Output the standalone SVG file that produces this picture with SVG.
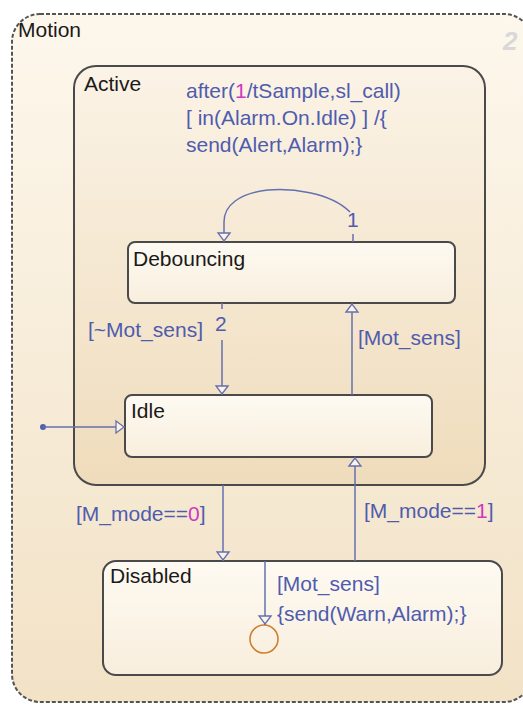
<svg xmlns="http://www.w3.org/2000/svg" width="523" height="704" viewBox="0 0 523 704">
<defs>
<linearGradient id="gOuter" x1="0" y1="0" x2="0" y2="1">
<stop offset="0" stop-color="#fdf7ec"/><stop offset="1" stop-color="#f2e2c6"/>
</linearGradient>
<linearGradient id="gActive" x1="0" y1="0" x2="0" y2="1">
<stop offset="0" stop-color="#fbf3e6"/><stop offset="1" stop-color="#efdcbc"/>
</linearGradient>
<linearGradient id="gState" x1="0" y1="0" x2="0" y2="1">
<stop offset="0" stop-color="#fefaf2"/><stop offset="1" stop-color="#f8eedd"/>
</linearGradient>
<marker id="arr" viewBox="0 0 10 16" refX="10" refY="8" markerWidth="10" markerHeight="16" markerUnits="userSpaceOnUse" orient="auto">
<path d="M1,2 L9,8 L1,14 Z" fill="#fbf3e6" stroke="#6470b0" stroke-width="1.3"/>
</marker>
<style>
.st{stroke:#4a4a4a;stroke-width:2;fill:url(#gState)}
.nm{font-family:"Liberation Sans",Arial,sans-serif;font-size:21px;fill:#1a1a1a}
.lb{font-family:"Liberation Sans",Arial,sans-serif;font-size:21px;fill:#4f5cae}
.mg{fill:#d038c0}
.cn{fill:none;stroke:#6470b0;stroke-width:1.5}
</style>
</defs>
<rect width="523" height="704" fill="#ffffff"/>
<g id="Motion">
<rect x="12" y="14" width="520" height="688" rx="28" fill="url(#gOuter)" stroke="#555" stroke-width="2" stroke-dasharray="4,2"/>
<text class="nm" x="18" y="37">Motion</text>
<text x="503" y="50" font-family="Liberation Sans,Arial,sans-serif" font-size="26" font-weight="bold" font-style="italic" fill="#d8d8d8">2</text>
</g>
<g id="Active">
<rect x="74" y="66" width="411" height="419" rx="22" fill="url(#gActive)" stroke="#4a4a4a" stroke-width="2"/>
<text class="nm" x="84" y="91">Active</text>
<text class="lb" x="186" y="98">after(<tspan class="mg">1</tspan>/tSample,sl_call)</text>
<text class="lb" x="186" y="125">[ in(Alarm.On.Idle) ] /{</text>
<text class="lb" x="186" y="152">send(Alert,Alarm);}</text>
</g>
<g id="Debouncing">
<rect class="st" x="128" y="242" width="327" height="61" rx="7"/>
<text class="nm" x="133" y="266">Debouncing</text>
</g>
<g id="Idle">
<rect class="st" x="125" y="395" width="307" height="62" rx="7"/>
<text class="nm" x="131" y="418">Idle</text>
</g>
<g id="Disabled">
<rect class="st" x="103" y="561" width="399" height="114" rx="13"/>
<text class="nm" x="110" y="583">Disabled</text>
</g>
<g id="Junction">
<circle cx="264" cy="639" r="14" fill="none" stroke="#d08030" stroke-width="1.6"/>
</g>
<g id="connectors">
<path class="cn" d="M353,242 V234 M350,212 C330,192 290,188 268,190 C240,193 224,205 224,222 V242" marker-end="url(#arr)"/>
<text class="lb" x="347" y="227">1</text>
<path class="cn" d="M222,303 V309 M222,340 V395" marker-end="url(#arr)"/>
<text class="lb" x="215" y="331">2</text>
<text class="lb" x="88" y="337">[~Mot_sens]</text>
<path class="cn" d="M352,395 V303" marker-end="url(#arr)"/>
<text class="lb" x="358" y="345">[Mot_sens]</text>
<circle cx="43" cy="427" r="3" fill="#5060b0"/>
<path class="cn" d="M43,427 H125" marker-end="url(#arr)"/>
<path class="cn" d="M223,485 V561" marker-end="url(#arr)"/>
<text class="lb" x="76" y="521">[M_mode==<tspan class="mg">0</tspan>]</text>
<path class="cn" d="M355,561 V457" marker-end="url(#arr)"/>
<text class="lb" x="364" y="518">[M_mode==<tspan class="mg">1</tspan>]</text>
<path class="cn" d="M265,561 V625" marker-end="url(#arr)"/>
<text class="lb" x="277" y="591">[Mot_sens]</text>
<text class="lb" x="277" y="621">{send(Warn,Alarm);}</text>
</g>
</svg>
